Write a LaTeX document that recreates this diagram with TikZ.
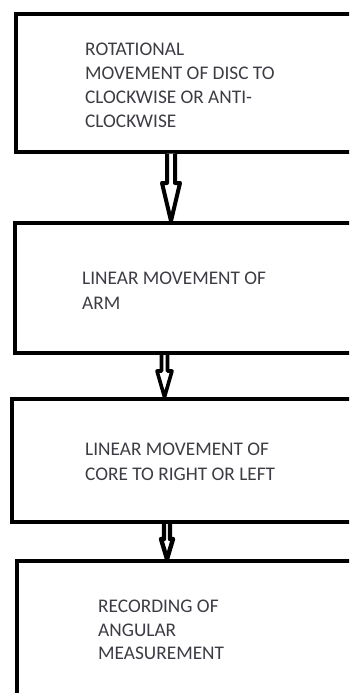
\documentclass[tikz,border=0pt]{standalone}
\usepackage{fontspec}
\setmainfont{Carlito}
\usetikzlibrary{calc}
\definecolor{txtgray}{RGB}{60,60,68}
\tikzset{
  box/.style={draw=black, line width=4pt, rectangle, inner sep=0pt, anchor=north west},
  label/.style={font=\fontsize{19.3pt}{24pt}\selectfont, text=txtgray, align=left, inner sep=0pt, anchor=north west},
}
% #1 start, #2 end, #3 half shaft, #4 half head, #5 head length, #6 stroke
\newcommand\flowarrow[6]{%
  \draw[line width=#6, line join=round, fill=white]
    ($(#1)+(-#3,0)$) -- ($(#2)+(-#3,#5)$) -- ($(#2)+(-#4,#5)$) -- (#2)
    -- ($(#2)+(#4,#5)$) -- ($(#2)+(#3,#5)$) -- ($(#1)+(#3,0)$);}
\begin{document}
\begin{tikzpicture}[x=1pt,y=1pt]
  \useasboundingbox (0,0) rectangle (349,-693);
  \clip (0,0) rectangle (349,-693);
  \node[box, minimum width=360pt, minimum height=137pt] (b1) at (14,-12.5) {};
  \node[box, minimum width=360pt, minimum height=130pt] (b2) at (13,-221) {};
  \node[box, minimum width=360pt, minimum height=123pt] (b3) at (10,-397) {};
  \node[box, minimum width=360pt, minimum height=200pt] (b4) at (15,-559) {};

  \node[label] (t1) at (85,-43) {ROTATIONAL\\MOVEMENT OF DISC TO\\CLOCKWISE OR ANTI-\\CLOCKWISE};
  \node[label, font=\fontsize{19.3pt}{25pt}\selectfont] (t2) at (82,-272) {LINEAR MOVEMENT OF\\ARM};
  \node[label, font=\fontsize{19.3pt}{24.5pt}\selectfont] (t3) at (85,-443) {LINEAR MOVEMENT OF\\CORE TO RIGHT OR LEFT};
  \node[label, font=\fontsize{19.3pt}{23.5pt}\selectfont] (t4) at (98,-600) {RECORDING OF\\ANGULAR\\MEASUREMENT};

  \coordinate (x1) at (171,0);
  \coordinate (x2) at (164.5,0);
  \coordinate (x3) at (167,0);
  \coordinate (s1) at (b1.south -| x1);
  \coordinate (e1) at (b2.north -| x1);
  \coordinate (s2) at (b2.south -| x2);
  \coordinate (e2) at (b3.north -| x2);
  \coordinate (s3) at (b3.south -| x3);
  \coordinate (e3) at (b4.north -| x3);
  \flowarrow{s1}{e1}{4}{9}{38}{4pt}
  \flowarrow{s2}{e2}{3}{7.5}{26}{3.6pt}
  \flowarrow{s3}{e3}{3}{6}{20}{4.4pt}
\end{tikzpicture}
\end{document}
